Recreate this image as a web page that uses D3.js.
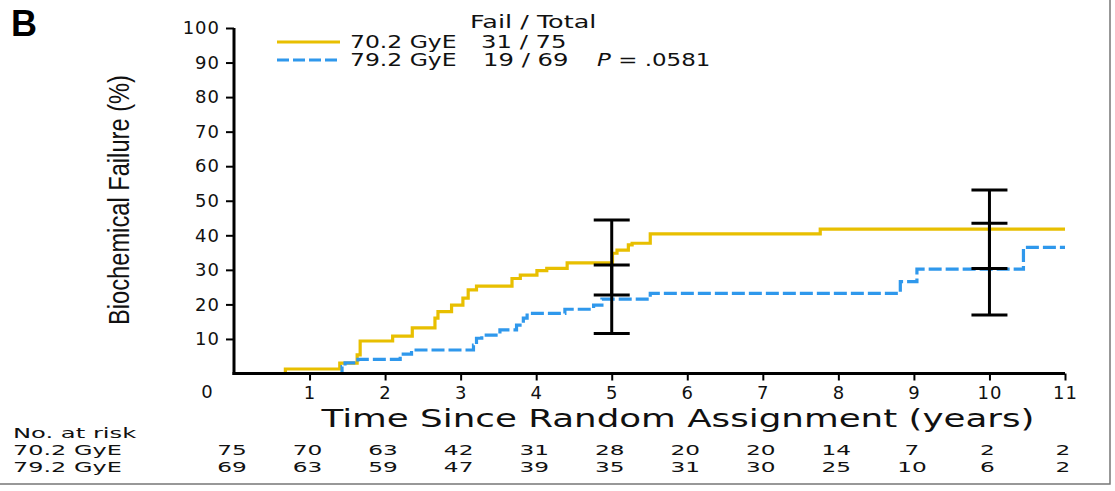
<!DOCTYPE html>
<html>
<head>
<meta charset="utf-8">
<script src="https://cdn.jsdelivr.net/npm/d3@7"></script>
<style>
  body { margin: 0; background: #fff; }
  svg { display: block; }
</style>
</head>
<body>
<div id="chart"></div>
<script>
// --- Data ---
const lowTimes  = [0, 0.68, 1.40, 1.63, 1.67, 2.10, 2.36, 2.66, 2.70, 2.88, 3.03, 3.10, 3.21, 3.68, 3.79, 4.01, 4.14, 4.41, 5.01, 5.07, 5.22, 5.27, 5.51, 7.76, 11];
const lowValues = [0, 1.3, 3.0, 5.4, 9.4, 10.8, 13.2, 16.0, 17.9, 19.8, 21.8, 24.2, 25.3, 27.5, 28.5, 29.8, 30.4, 32.0, 34.8, 35.7, 37.2, 37.7, 40.4, 41.8, 41.8];

const highTimes  = [0, 1.43, 1.47, 1.64, 2.20, 2.35, 3.17, 3.21, 3.28, 3.52, 3.74, 3.83, 3.88, 4.38, 4.76, 4.87, 5.51, 8.82, 9.04, 10.45, 11];
const highValues = [0, 2.0, 3.1, 4.1, 5.6, 6.8, 8.2, 10.2, 11.1, 12.6, 14.0, 16.0, 17.4, 18.6, 19.8, 21.5, 23.2, 26.6, 30.2, 36.5, 36.5];

const ciTimes = [5, 10];
const lowCiLower  = [22.7, 30.4];
const lowCiUpper  = [44.4, 53.1];
const highCiLower = [11.6, 16.9];
const highCiUpper = [31.4, 43.5];

const xTicks = [1, 2, 3, 4, 5, 6, 7, 8, 9, 10, 11];
const yTicks = [10, 20, 30, 40, 50, 60, 70, 80, 90, 100];
const riskTimes = [0, 1, 2, 3, 4, 5, 6, 7, 8, 9, 10, 11];
const riskLow  = [75, 70, 63, 42, 31, 28, 20, 20, 14, 7, 2, 2];
const riskHigh = [69, 63, 59, 47, 39, 35, 31, 30, 25, 10, 6, 2];

const YELLOW = "#e8bf00";
const BLUE = "#2f98ec";
const numFont = "'DejaVu Sans', sans-serif";

// --- Setup ---
const width = 1115, height = 491;
const svg = d3.select("#chart").append("svg")
    .attr("width", width)
    .attr("height", height);

const x = d3.scaleLinear().domain([0, 11]).range([234, 1065]);
const y = d3.scaleLinear().domain([0, 100]).range([373.5, 28]);

// the figure's type is very wide, so stretch text horizontally
function wideText(g, str, tx, ty, size, sx, anchor) {
    return g.append("text")
        .text(str)
        .attr("transform", `translate(${tx},${ty}) scale(${sx},1)`)
        .attr("text-anchor", anchor || "start")
        .style("font-size", size + "px");
}

// thin frame on right and bottom edge
svg.append("path")
    .attr("d", `M1110,0 V484 H0`)
    .attr("fill", "none")
    .attr("stroke", "#777")
    .attr("stroke-width", 1.5);

// panel letter
svg.append("text")
    .text("B")
    .attr("x", 11).attr("y", 36)
    .style("font-family", "'Liberation Sans', Arial, sans-serif")
    .style("font-weight", "bold")
    .style("font-size", "36px");

// --- Curves ---
const stepLine = d3.line()
    .x(d => x(d[0]))
    .y(d => y(d[1]))
    .curve(d3.curveStepAfter);

svg.append("path")
    .datum(lowTimes.map((t, i) => [t, lowValues[i]]))
    .attr("d", stepLine)
    .attr("fill", "none")
    .attr("stroke", YELLOW)
    .attr("stroke-width", 3.2);

svg.append("path")
    .datum(highTimes.map((t, i) => [t, highValues[i]]))
    .attr("d", stepLine)
    .attr("fill", "none")
    .attr("stroke", BLUE)
    .attr("stroke-width", 3.2)
    .attr("stroke-dasharray", "13,4");

// --- Error bars ---
const bars = svg.append("g").attr("stroke", "#000").attr("stroke-width", 3);
[[lowCiLower, lowCiUpper], [highCiLower, highCiUpper]].forEach(([lo, hi]) => {
    ciTimes.forEach((t, i) => {
        bars.append("line")
            .attr("x1", x(t)).attr("x2", x(t))
            .attr("y1", y(lo[i])).attr("y2", y(hi[i]));
        [lo[i], hi[i]].forEach(v => {
            bars.append("line")
                .attr("x1", x(t) - 18).attr("x2", x(t) + 18)
                .attr("y1", y(v)).attr("y2", y(v));
        });
    });
});

// --- Axes ---
const yAxis = svg.append("g")
    .attr("transform", `translate(${x(0)},0)`)
    .call(d3.axisLeft(y).tickValues(yTicks).tickSize(8).tickSizeOuter(0).tickPadding(6));
yAxis.select(".domain").attr("stroke-width", 3).attr("d", `M0,${y(100)}V${y(0) + 1.5}`);
yAxis.selectAll(".tick line").attr("stroke-width", 2);
yAxis.selectAll(".tick text")
    .style("font-family", numFont)
    .style("font-size", "18px")
    .style("letter-spacing", "1px")
    .attr("fill", "#111");

const xAxis = svg.append("g")
    .attr("transform", `translate(0,${y(0)})`)
    .call(d3.axisBottom(x).tickValues(xTicks).tickSize(7).tickSizeOuter(0).tickPadding(6));
xAxis.select(".domain").attr("stroke-width", 3).attr("d", `M${x(0) - 1.5},0H${x(11)}`);
xAxis.selectAll(".tick line").attr("stroke-width", 2);
xAxis.selectAll(".tick text")
    .style("font-family", numFont)
    .style("font-size", "18px")
    .style("letter-spacing", "1px")
    .attr("fill", "#111");

// "0" label sits left of the origin
svg.append("text")
    .text("0")
    .attr("x", x(0) - 27).attr("y", 398)
    .attr("text-anchor", "middle")
    .style("font-family", numFont)
    .style("font-size", "18px")
    .attr("fill", "#111");

// axis titles
svg.append("text")
    .text("Biochemical Failure (%)")
    .attr("transform", `translate(129,200) rotate(-90)`)
    .attr("text-anchor", "middle")
    .attr("textLength", 250)
    .attr("lengthAdjust", "spacingAndGlyphs")
    .style("font-family", "'Liberation Sans', Arial, sans-serif")
    .style("font-size", "29px")
    .attr("fill", "#111");

svg.append("text")
    .text("Time Since Random Assignment (years)")
    .attr("x", 678).attr("y", 427)
    .attr("text-anchor", "middle")
    .attr("textLength", 713)
    .attr("lengthAdjust", "spacingAndGlyphs")
    .style("font-family", numFont)
    .style("font-size", "25px")
    .attr("fill", "#111");

// --- Legend ---
const legend = svg.append("g")
    .style("font-family", numFont)
    .attr("fill", "#111");

wideText(legend, "Fail / Total", 470, 28, 17, 1.5);

legend.append("line")
    .attr("x1", 277).attr("x2", 340).attr("y1", 42).attr("y2", 42)
    .attr("stroke", YELLOW).attr("stroke-width", 3.2);
wideText(legend, "70.2 GyE", 350, 48, 17, 1.38);
wideText(legend, "31 / 75", 481, 48, 17, 1.43);

legend.append("line")
    .attr("x1", 277).attr("x2", 340).attr("y1", 60).attr("y2", 60)
    .attr("stroke", BLUE).attr("stroke-width", 3.2)
    .attr("stroke-dasharray", "12,4");
wideText(legend, "79.2 GyE", 350, 66, 17, 1.38);
wideText(legend, "19 / 69", 483, 66, 17, 1.43);
const pText = wideText(legend, "", 597, 66, 17, 1.35);
pText.append("tspan").text("P").style("font-style", "italic");
pText.append("tspan").text(" = .0581");

// --- Number at risk table ---
const risk = svg.append("g")
    .style("font-family", numFont)
    .attr("fill", "#111");

wideText(risk, "No. at risk", 13, 438, 14, 1.73);
wideText(risk, "70.2 GyE", 13, 455, 14, 1.71);
wideText(risk, "79.2 GyE", 13, 472, 14, 1.71);

riskTimes.forEach((t, i) => {
    wideText(risk, riskLow[i], x(t) - 2, 455, 14, 1.66, "middle");
    wideText(risk, riskHigh[i], x(t) - 2, 472, 14, 1.66, "middle");
});
</script>
</body>
</html>
